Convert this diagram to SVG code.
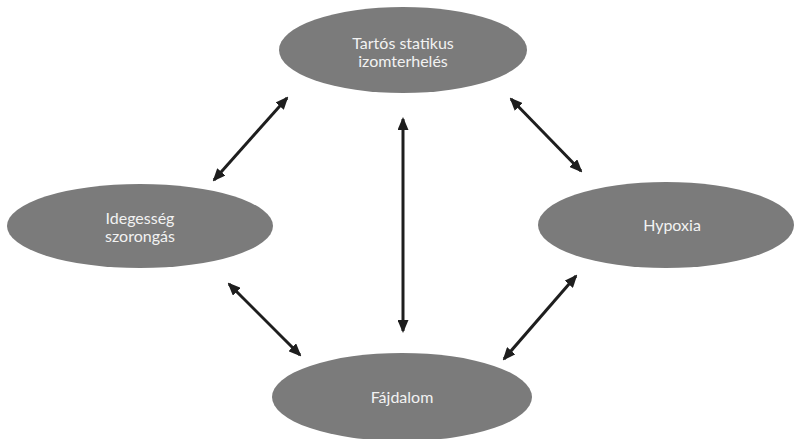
<svg xmlns="http://www.w3.org/2000/svg" width="796" height="439" viewBox="0 0 796 439">
<defs>
<style>
.node{fill:#7b7b7b;}
.lbl{font-family:Lato,"Liberation Sans",sans-serif;font-size:16px;fill:#f2f2f2;text-anchor:middle;}
.conn{stroke:#1e1e1e;stroke-width:3;fill:none;marker-start:url(#ah);marker-end:url(#ah);}
</style>
<marker id="ah" viewBox="0 0 13 11" refX="11" refY="5.5" markerWidth="13" markerHeight="11" markerUnits="userSpaceOnUse" orient="auto-start-reverse">
<path d="M0,0 L13,5.5 L0,11 Z" fill="#1e1e1e"/>
</marker>
</defs>
<rect width="796" height="439" fill="#ffffff"/>
<g id="connectors">
<line class="conn" x1="214" y1="180" x2="287" y2="98"/>
<line class="conn" x1="403" y1="119" x2="403" y2="331"/>
<line class="conn" x1="511" y1="99" x2="581" y2="171"/>
<line class="conn" x1="229" y1="284" x2="300" y2="355"/>
<line class="conn" x1="576" y1="276" x2="504" y2="359"/>
</g>
<g id="node-tartos">
<ellipse class="node" cx="403" cy="50" rx="124" ry="43"/>
<text class="lbl" x="403" y="49">Tartós statikus</text>
<text class="lbl" x="403" y="67">izomterhelés</text>
</g>
<g id="node-idegesseg">
<ellipse class="node" cx="140" cy="226" rx="133" ry="42"/>
<text class="lbl" x="140" y="224">Idegesség</text>
<text class="lbl" x="140" y="242">szorongás</text>
</g>
<g id="node-hypoxia">
<ellipse class="node" cx="666" cy="225" rx="128" ry="43"/>
<text class="lbl" x="672" y="231">Hypoxia</text>
</g>
<g id="node-fajdalom">
<ellipse class="node" cx="402" cy="397" rx="130" ry="44"/>
<text class="lbl" x="402" y="403">Fájdalom</text>
</g>
</svg>
